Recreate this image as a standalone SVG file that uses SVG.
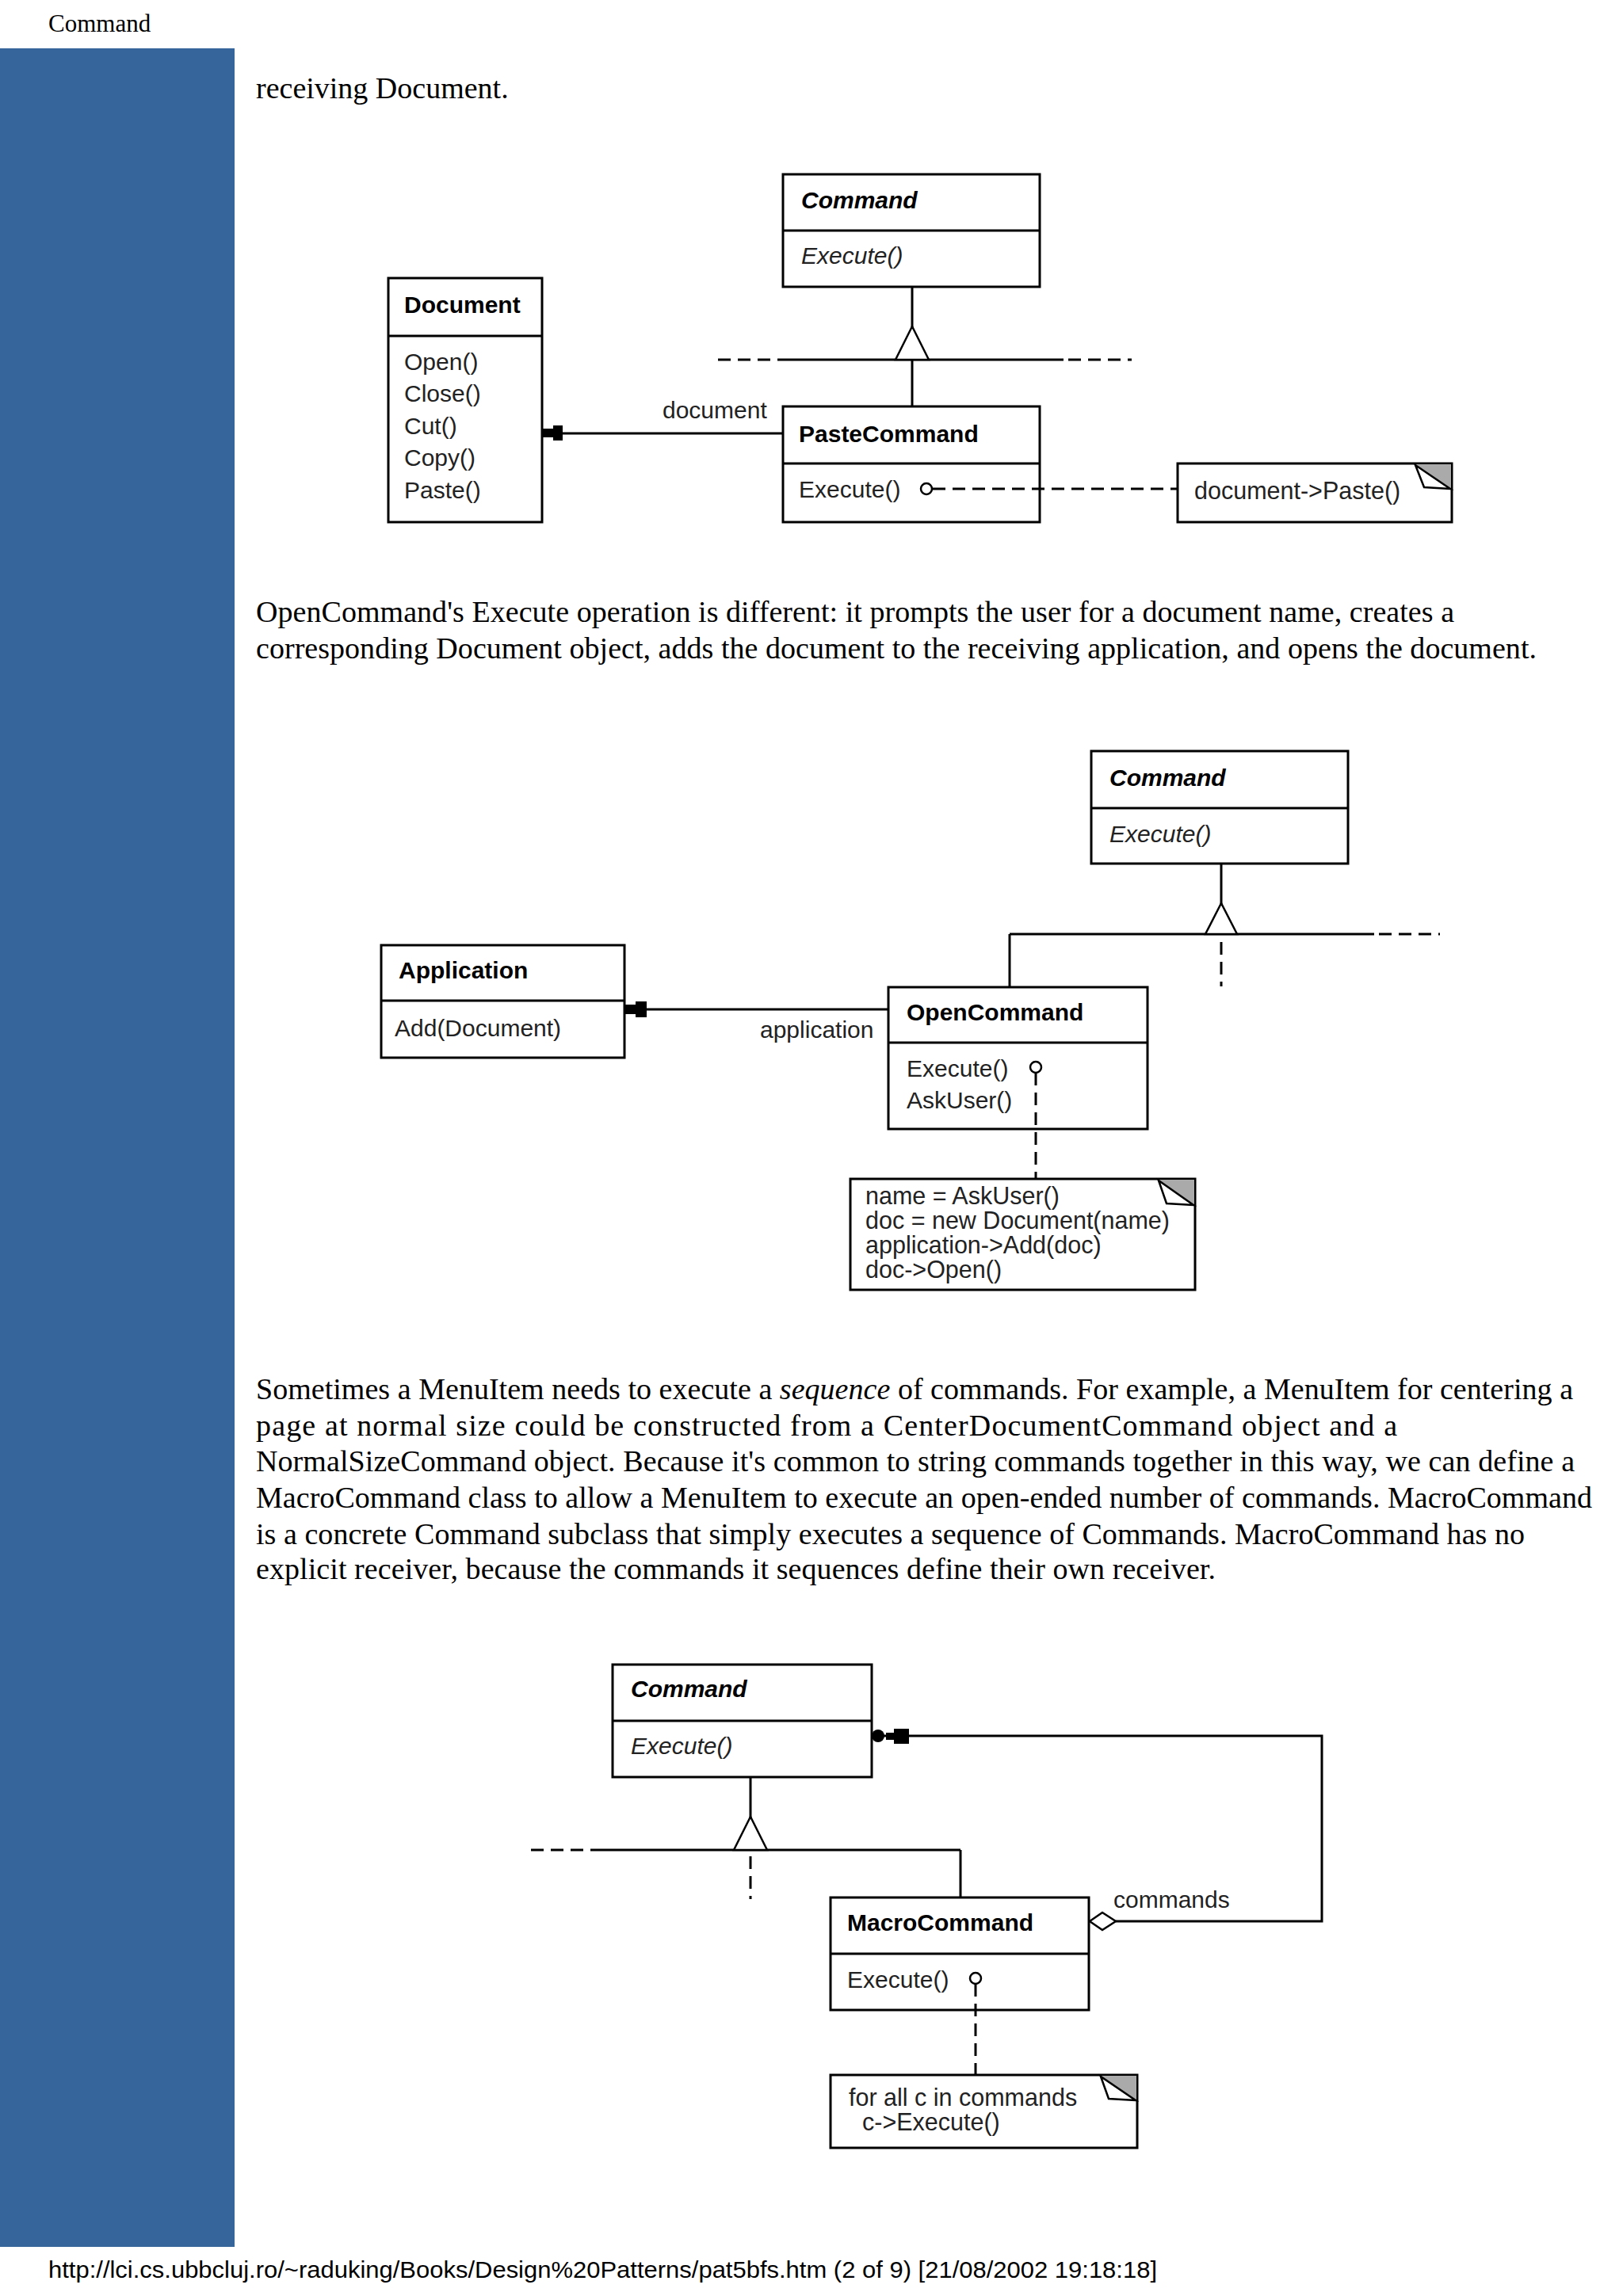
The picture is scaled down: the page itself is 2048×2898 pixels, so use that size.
<svg xmlns="http://www.w3.org/2000/svg" width="2048" height="2898" viewBox="0 0 2048 2898">
<style>
.body{font-family:"Liberation Serif","Times New Roman",serif;font-size:38px;fill:#000}
.hdr{font-family:"Liberation Serif","Times New Roman",serif;font-size:31px;fill:#000}
.foot{font-family:"Liberation Sans",Arial,sans-serif;font-size:30px;fill:#000}
.box{fill:#fff;stroke:#000;stroke-width:3}
.div{stroke:#000;stroke-width:3}
.t{font-family:"Liberation Sans",Arial,sans-serif;font-size:30px;fill:#000;font-weight:bold}
.ti{font-family:"Liberation Sans",Arial,sans-serif;font-size:30px;fill:#000;font-weight:bold;font-style:italic}
.m{font-family:"Liberation Sans",Arial,sans-serif;font-size:30px;fill:#222}
.mi{font-family:"Liberation Sans",Arial,sans-serif;font-size:30px;fill:#222;font-style:italic}
.n{font-family:"Liberation Sans",Arial,sans-serif;font-size:30.5px;fill:#222}
.ln{fill:none;stroke:#000;stroke-width:3}
.dl{fill:none;stroke:#000;stroke-width:3;stroke-dasharray:16 9}
.tri{fill:#fff;stroke:#000;stroke-width:2.5}
.fill{fill:#000;stroke:none}
.dog{fill:#aaa;stroke:none}
.fold{fill:#fff;stroke:#000;stroke-width:2.5}
.lolli{fill:#fff;stroke:#000;stroke-width:2.5}
</style>

<rect x="0" y="61" width="296" height="2775" fill="#35659b"/>
<text class="hdr" x="61" y="40">Command</text>

<text class="body" x="323" y="124">receiving Document.</text>

<!-- Diagram 1 nodes -->
<g id="d1-command">
  <rect class="box" x="988" y="220" width="324" height="142"/>
  <line class="div" x1="988" y1="291" x2="1312" y2="291"/>
  <text class="ti" x="1011" y="263">Command</text>
  <text class="mi" x="1011" y="333">Execute()</text>
</g>
<g id="d1-document">
  <rect class="box" x="490" y="351" width="194" height="308"/>
  <line class="div" x1="490" y1="424" x2="684" y2="424"/>
  <text class="t" x="510" y="395">Document</text>
  <text class="m" x="510" y="467">Open()</text>
  <text class="m" x="510" y="507">Close()</text>
  <text class="m" x="510" y="548">Cut()</text>
  <text class="m" x="510" y="588">Copy()</text>
  <text class="m" x="510" y="629">Paste()</text>
</g>
<g id="d1-pastecommand">
  <rect class="box" x="988" y="513" width="324" height="146"/>
  <line class="div" x1="988" y1="585" x2="1312" y2="585"/>
  <text class="t" x="1008" y="558">PasteCommand</text>
  <text class="m" x="1008" y="628">Execute()</text>
</g>
<g id="d1-note">
  <rect class="box" x="1486" y="585" width="346" height="74"/>
  <polygon class="dog" points="1786,586 1831,586 1831,617"/>
  <polygon class="fold" points="1786,587 1797,615 1830,617"/>
  <text class="n" x="1507" y="630">document-&gt;Paste()</text>
</g>
<!-- Diagram 1 connectors -->
<g id="d1-connectors">
  <line class="ln" x1="1151" y1="362" x2="1151" y2="413"/>
  <line class="dl" x1="906" y1="454" x2="988" y2="454"/>
  <line class="ln" x1="988" y1="454" x2="1342" y2="454"/>
  <line class="dl" x1="1348" y1="454" x2="1428" y2="454"/>
  <line class="ln" x1="1151" y1="454" x2="1151" y2="513"/>
  <polygon class="tri" points="1151,412 1130,454 1172,454"/>
  <line class="ln" x1="700" y1="547" x2="988" y2="547"/>
  <polygon class="fill" points="684,541 698,541 698,537 710,537 710,556 698,556 698,552 684,552"/>
  <text class="m" x="836" y="528">document</text>
  <line class="dl" x1="1177" y1="617" x2="1486" y2="617"/>
  <circle class="lolli" cx="1169" cy="617" r="7"/>
</g>

<text class="body" x="323" y="785" textLength="1512" lengthAdjust="spacing">OpenCommand's Execute operation is different: it prompts the user for a document name, creates a</text>
<text class="body" x="323" y="831" textLength="1616" lengthAdjust="spacing">corresponding Document object, adds the document to the receiving application, and opens the document.</text>

<!-- Diagram 2 nodes -->
<g id="d2-command">
  <rect class="box" x="1377" y="948" width="324" height="142"/>
  <line class="div" x1="1377" y1="1020" x2="1701" y2="1020"/>
  <text class="ti" x="1400" y="992">Command</text>
  <text class="mi" x="1400" y="1063">Execute()</text>
</g>
<g id="d2-application">
  <rect class="box" x="481" y="1193" width="307" height="142"/>
  <line class="div" x1="481" y1="1263" x2="788" y2="1263"/>
  <text class="t" x="503" y="1235">Application</text>
  <text class="m" x="498" y="1308">Add(Document)</text>
</g>
<g id="d2-opencommand">
  <rect class="box" x="1121" y="1246" width="327" height="179"/>
  <line class="div" x1="1121" y1="1316" x2="1448" y2="1316"/>
  <text class="t" x="1144" y="1288">OpenCommand</text>
  <text class="m" x="1144" y="1359">Execute()</text>
  <text class="m" x="1144" y="1399">AskUser()</text>
</g>
<g id="d2-note">
  <rect class="box" x="1073" y="1488" width="435" height="140"/>
  <polygon class="dog" points="1462,1489 1507,1489 1507,1521"/>
  <polygon class="fold" points="1462,1490 1472,1519 1506,1521"/>
  <text class="n" x="1092" y="1520">name = AskUser()</text>
  <text class="n" x="1092" y="1551">doc = new Document(name)</text>
  <text class="n" x="1092" y="1582">application-&gt;Add(doc)</text>
  <text class="n" x="1092" y="1613">doc-&gt;Open()</text>
</g>
<!-- Diagram 2 connectors -->
<g id="d2-connectors">
  <line class="ln" x1="1541" y1="1090" x2="1541" y2="1141"/>
  <line class="ln" x1="1274" y1="1179" x2="1734" y2="1179"/>
  <line class="dl" x1="1740" y1="1179" x2="1817" y2="1179"/>
  <line class="ln" x1="1274" y1="1179" x2="1274" y2="1246"/>
  <line class="dl" x1="1541" y1="1189" x2="1541" y2="1245"/>
  <polygon class="tri" points="1541,1140 1521,1179 1561,1179"/>
  <line class="ln" x1="804" y1="1274" x2="1121" y2="1274"/>
  <polygon class="fill" points="788,1268 802,1268 802,1264 816,1264 816,1284 802,1284 802,1280 788,1280"/>
  <text class="m" x="959" y="1310">application</text>
  <line class="dl" x1="1307" y1="1354" x2="1307" y2="1488"/>
  <circle class="lolli" cx="1307" cy="1347" r="7"/>
</g>

<text class="body" x="323" y="1766" textLength="1662" lengthAdjust="spacing">Sometimes a MenuItem needs to execute a <tspan font-style="italic">sequence</tspan> of commands. For example, a MenuItem for centering a</text>
<text class="body" x="323" y="1812" textLength="1440" lengthAdjust="spacing">page at normal size could be constructed from a CenterDocumentCommand object and a</text>
<text class="body" x="323" y="1857" textLength="1664" lengthAdjust="spacing">NormalSizeCommand object. Because it's common to string commands together in this way, we can define a</text>
<text class="body" x="323" y="1903" textLength="1686" lengthAdjust="spacing">MacroCommand class to allow a MenuItem to execute an open-ended number of commands. MacroCommand</text>
<text class="body" x="323" y="1949" textLength="1601" lengthAdjust="spacing">is a concrete Command subclass that simply executes a sequence of Commands. MacroCommand has no</text>
<text class="body" x="323" y="1993" textLength="1211" lengthAdjust="spacing">explicit receiver, because the commands it sequences define their own receiver.</text>

<!-- Diagram 3 nodes -->
<g id="d3-command">
  <rect class="box" x="773" y="2101" width="327" height="142"/>
  <line class="div" x1="773" y1="2172" x2="1100" y2="2172"/>
  <text class="ti" x="796" y="2142">Command</text>
  <text class="mi" x="796" y="2214">Execute()</text>
</g>
<g id="d3-macrocommand">
  <rect class="box" x="1048" y="2395" width="326" height="142"/>
  <line class="div" x1="1048" y1="2466" x2="1374" y2="2466"/>
  <text class="t" x="1069" y="2437">MacroCommand</text>
  <text class="m" x="1069" y="2509">Execute()</text>
</g>
<g id="d3-note">
  <rect class="box" x="1048" y="2619" width="387" height="92"/>
  <polygon class="dog" points="1389,2620 1434,2620 1434,2651"/>
  <polygon class="fold" points="1389,2621 1399,2649 1433,2651"/>
  <text class="n" x="1071" y="2658">for all c in commands</text>
  <text class="n" x="1088" y="2689">c-&gt;Execute()</text>
</g>
<!-- Diagram 3 connectors -->
<g id="d3-connectors">
  <line class="ln" x1="947" y1="2243" x2="947" y2="2294"/>
  <line class="dl" x1="670" y1="2335" x2="752" y2="2335"/>
  <line class="ln" x1="752" y1="2335" x2="1212" y2="2335"/>
  <line class="ln" x1="1212" y1="2335" x2="1212" y2="2395"/>
  <line class="dl" x1="947" y1="2343" x2="947" y2="2397"/>
  <polygon class="tri" points="947,2293 926,2335 968,2335"/>
  <polyline class="ln" points="1408,2425 1668,2425 1668,2191 1140,2191"/>
  <polygon class="lolli" points="1375,2425 1391,2414 1408,2425 1391,2436"/>
  <line class="ln" x1="1100" y1="2191" x2="1130" y2="2191"/>
  <circle class="fill" cx="1108" cy="2191" r="8"/>
  <polygon class="fill" points="1118,2187 1128,2187 1128,2182 1147,2182 1147,2201 1128,2201 1128,2196 1118,2196"/>
  <text class="m" x="1405" y="2408">commands</text>
  <line class="dl" x1="1231" y1="2504" x2="1231" y2="2619"/>
  <circle class="lolli" cx="1231" cy="2497" r="7"/>
</g>

<text class="foot" x="61" y="2875" textLength="1399" lengthAdjust="spacingAndGlyphs">http://lci.cs.ubbcluj.ro/~raduking/Books/Design%20Patterns/pat5bfs.htm (2 of 9) [21/08/2002 19:18:18]</text>
</svg>
